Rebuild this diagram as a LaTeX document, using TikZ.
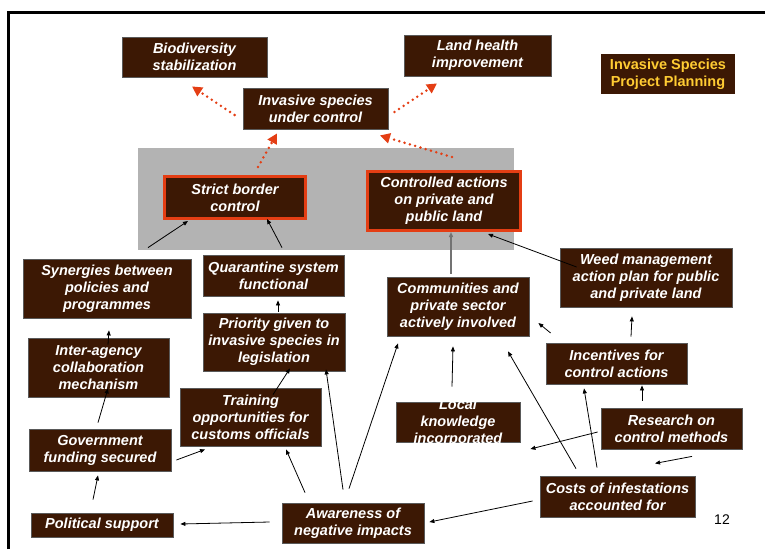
\documentclass[tikz,border=0pt]{standalone}
\usepackage{fontspec}
\setmainfont{Liberation Sans}
\usepackage{tikz}
\usetikzlibrary{arrows.meta, positioning}
\definecolor{boxbrown}{RGB}{60,24,4}
\definecolor{hotred}{RGB}{228,62,20}
\definecolor{zonegray}{RGB}{179,179,179}
\definecolor{titleyellow}{RGB}{255,204,51}
\tikzset{>={Triangle[length=5pt,width=4pt]}}
\tikzset{
  goal/.style={draw=black!65, line width=0.8pt, fill=boxbrown, text=white, inner sep=0pt,
    font=\fontsize{14.5}{17}\selectfont\bfseries\itshape, align=center},
  keybox/.style={goal, draw=hotred, line width=3pt},
  link/.style={->, line width=0.8pt},
  flow/.style={-{Triangle[length=10pt,width=10pt]}, hotred, line width=2.8pt, line cap=round,
    dash pattern=on 0pt off 5.5pt}
}

\begin{document}
\begin{tikzpicture}[x=1pt, y=-1pt]
  \useasboundingbox (0,0) rectangle (765,549);
  \draw[line width=3pt](8,549)--(8,12)--(765,12);
  \node[fill=zonegray, inner sep=0, minimum width=376, minimum height=102](zone) at (326,199){};

  % outcomes
  \node[goal, minimum width=145, minimum height=40](bio) at (194.5,57){Biodiversity\\stabilization};
  \node[goal, minimum width=147, minimum height=41](land) at (477.5,55.5){Land health\\improvement};
  \node[goal, minimum width=145, minimum height=41](isc) at (315.5,108.5){Invasive species\\under control};
  \node[goal, draw=none, text=titleyellow, font=\fontsize{14.5}{17}\selectfont\bfseries,
    minimum width=134, minimum height=40](title) at (668,74){Invasive Species\\Project Planning};
  \node[keybox, minimum width=141, minimum height=42](sbc) at (235,197.5){Strict border\\control};
  \node[keybox, minimum width=153, minimum height=59](cap) at (444,201){Controlled actions\\on private and\\public land};

  % left side
  \node[goal, minimum width=168, minimum height=59](syn) at (107,288.5){Synergies between\\policies and\\programmes};
  \node[goal, minimum width=141, minimum height=41](quar) at (273.5,275.5){Quarantine system\\functional};
  \node[goal, minimum width=142, minimum height=58](prio) at (274,342){Priority given to\\invasive species in\\legislation};
  \node[goal, minimum width=141, minimum height=59](inter) at (98.5,367.5){Inter-agency\\collaboration\\mechanism};
  \node[goal, minimum width=141, minimum height=58](train) at (250.5,417){Training\\opportunities for\\customs officials};
  \node[goal, minimum width=142, minimum height=42](gov) at (100,450){Government\\funding secured};
  \node[goal, minimum width=142, minimum height=24](pol) at (102,525){Political support};
  \node[goal, minimum width=142, minimum height=40](aware) at (353,523){Awareness of\\negative impacts};

  % right side
  \node[goal, minimum width=172, minimum height=59](weed) at (646,277.5){Weed management\\action plan for public\\and private land};
  \node[goal, minimum width=142, minimum height=59](comm) at (458,306.5){Communities and\\private sector\\actively involved};
  \node[goal, minimum width=141, minimum height=41](inc) at (616.5,363.5){Incentives for\\control actions};
  \node[goal, minimum width=124, minimum height=40](local) at (458,422){};
  \begin{scope}
    \clip(local.south west)rectangle(local.north east);
    \node[goal, draw=none, fill=none](localtxt) at (458,423){Local\\knowledge\\incorporated};
  \end{scope}
  \node[goal, minimum width=141, minimum height=41](res) at (671.5,428.5){Research on\\control methods};
  \node[goal, minimum width=155, minimum height=41](cost) at (617.5,496.5){Costs of infestations\\accounted for};
  \node[font=\fontsize{14}{16}\selectfont](page) at (722,520){12};

  % dotted links to the outcomes
  \draw[flow]([shift={(-8,6.5)}]isc.west)--([shift={(-2.5,9)}]bio.south);
  \draw[flow]([shift={(6,3.5)}]isc.east)--([shift={(-40.5,7)}]land.south);
  \draw[flow]([shift={(23,-8)}]sbc.north)--([shift={(-38.5,4)}]isc.south);
  \draw[flow]([shift={(8,-13)}]cap.north)--([shift={(64.5,6)}]isc.south);

  % causal links
  \draw[link]([shift={(41,-11)}]syn.north)--([shift={(-47,1)}]sbc.south);
  \draw[link]([shift={(8.5,-7)}]quar.north)--([shift={(32,-1)}]sbc.south);
  \draw[link, draw=black!55, line width=1.6pt]([shift={(-7,-3)}]comm.north)--([shift={(7,0)}]cap.south);
  \draw[link]([shift={(17,-10.5)}]weed.west)--([shift={(44,2)}]cap.south);
  \draw[link]([shift={(4,-1)}]prio.north)--([shift={(4.5,4)}]quar.south);
  \draw[link]([shift={(9.5,7)}]inter.north)--([shift={(2,12)}]syn.south);
  \draw[link]([shift={(-2,-6)}]gov.north)--([shift={(9.5,-9)}]inter.south);
  \draw[link]([shift={(-9,-13)}]pol.north)--([shift={(-2,4)}]gov.south);
  \draw[link]([shift={(5,10)}]gov.east)--([shift={(-45.5,3)}]train.south);
  \draw[link]([shift={(22.5,7)}]train.north)--([shift={(16,-3)}]prio.south);
  \draw[link]([shift={(-48,-10)}]aware.north)--([shift={(35.5,3)}]train.south);
  \draw[link]([shift={(-10,-13)}]aware.north)--([shift={(52,-2)}]prio.south);
  \draw[link]([shift={(-4,-14)}]aware.north)--([shift={(-60,7)}]comm.south);
  \draw[link]([shift={(-12,-1)}]aware.west)--([shift={(7,-1)}]pol.east);
  \draw[link]([shift={(-7,4.5)}]cost.west)--([shift={(5,-1)}]aware.east);
  \draw[link]([shift={(-41.5,-7)}]cost.north)--([shift={(50,15)}]comm.south);
  \draw[link]([shift={(-20.5,-8)}]cost.north)--([shift={(-32.5,4)}]inc.south);
  \draw[link]([shift={(-6,-15)}]local.north)--([shift={(-5,10)}]comm.south);
  \draw[link]([shift={(5,-30.5)}]inc.west)--([shift={(9,16.5)}]comm.east);
  \draw[link]([shift={(14.5,-6)}]inc.north)--([shift={(-14,9)}]weed.south);
  \draw[link]([shift={(-29.5,-7)}]res.north)--([shift={(25.5,1)}]inc.south);
  \draw[link]([shift={(-3,3.5)}]res.west)--([shift={(10,27)}]local.east);
  \draw[link]([shift={(20.5,7)}]res.south)--([shift={(-16.5,14)}]res.south);
\end{tikzpicture}
\end{document}
